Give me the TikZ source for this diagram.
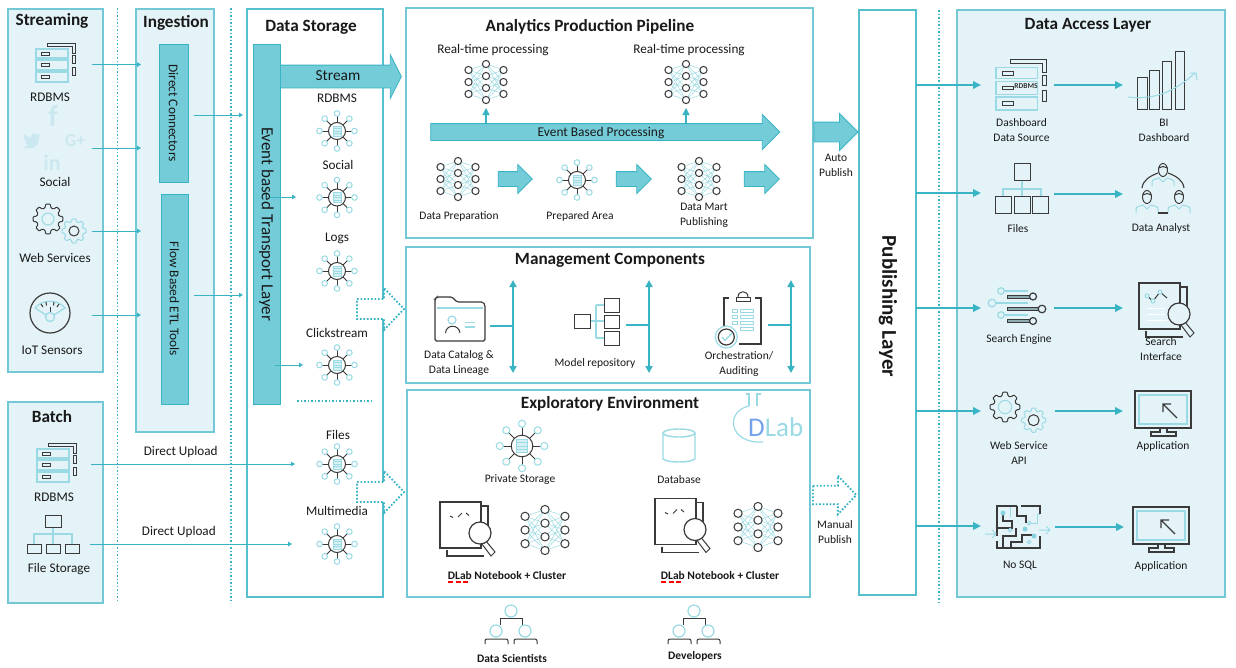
\documentclass[tikz,border=0pt]{standalone}
\usepackage{fontspec}
\setmainfont{Carlito}
\usetikzlibrary{arrows.meta}
\usetikzlibrary{calc}
\usetikzlibrary{positioning}
\usetikzlibrary{shapes.arrows}

\definecolor{ink}{HTML}{3A3A3A}
\definecolor{tealline}{HTML}{38B4C5}
\definecolor{lightteal}{HTML}{9ADAE4}
\definecolor{barfill}{HTML}{74CCD8}
\definecolor{panelline}{HTML}{73C8D5}
\definecolor{panelfill}{HTML}{E4F3F8}
\definecolor{ghost}{HTML}{CBE7EF}

\tikzset{
    x=1pt, y=-1pt,
    panel/.style={draw=panelline, line width=1.5pt, fill=panelfill},
    framed/.style={draw=tealline!85, line width=1.6pt, fill=white},
    lbl/.style={font=\fontsize{13.2}{15}\selectfont, text=black!90, align=center, inner sep=0pt},
    lblsm/.style={font=\fontsize{11.5}{15}\selectfont, text=black!90, align=center, inner sep=0pt},
    ttl/.style={font=\fontsize{17.2}{20}\bfseries\selectfont, text=black!90, inner sep=0pt},
    boldlbl/.style={font=\fontsize{11.5}{15}\bfseries\selectfont, text=black!90, inner sep=0pt},
    bar/.style={draw=tealline, line width=0.8pt, fill=barfill, rotate=-90, inner sep=0pt,
        font=\fontsize{13.4}{15}\selectfont, text=black!90},
    blockarrow/.style={single arrow, draw=tealline, line width=0.8pt, fill=barfill, inner xsep=0pt, inner ysep=0pt,
        font=\fontsize{13.4}{16}\selectfont, text=black!90},
    dotline/.style={draw=tealline, line width=1.8pt, dash pattern=on 1.7pt off 1.8pt},
    thinflow/.style={draw=tealline, line width=1pt, -{Triangle[length=4pt,width=4.5pt]}},
    flow/.style={draw=tealline, line width=1.8pt, -{Triangle[length=8pt,width=7.5pt]}},
    updown/.style={draw=tealline, line width=1.8pt, {Triangle[length=7pt,width=7pt]}-{Triangle[length=7pt,width=7pt]}},
    dk/.style={draw=ink, line width=1pt},
    lt/.style={draw=lightteal, line width=1pt},
}

\tikzset{
    hub/.pic={
        \foreach \a in {0,45,...,315} {
            \draw[dk,line width=0.8pt] (0,0) -- (\a:15);
            \draw[lt,fill=white] (\a:17.5) circle (2.8);
        }
        \draw[dk,fill=white] (0,0) circle (8.5);
        \draw[lt,fill=lightteal!40] (-4,-5) rectangle (4,5);
        \draw[lt] (-4,-2.5) -- (4,-2.5) (-4,0) -- (4,0) (-4,2.5) -- (4,2.5);
    },
    neural/.pic={
        \foreach \p in {-12,0,12} {
            \foreach \q in {-18,-6,6,18} {
                \draw[lt,line width=0.5pt] (-17.5,\p) -- (0,\q) -- (17.5,\p);
            }
        }
        \foreach \p in {-12,0,12} {
            \draw[dk,fill=white] (-17.5,\p) circle (3.6);
            \draw[dk,fill=white] (17.5,\p) circle (3.6);
        }
        \foreach \q in {-18,-6,6,18} {
            \draw[dk,fill=white] (0,\q) circle (3.6);
        }
    },
    rack/.pic={
        \draw[lt,line width=1.2pt] (-20,-13) rectangle (12,-4);
        \draw[lt,line width=1.2pt] (-20,-2) rectangle (12,8);
        \draw[lt,line width=1.2pt] (-20,10) rectangle (12,20);
        \draw[dk,line width=0.8pt] (-15,-10) rectangle (-7,-7);
        \draw[dk,line width=0.8pt] (-15,1.5) rectangle (-7,4.5);
        \draw[dk,line width=0.8pt] (-15,13.5) rectangle (-7,16.5);
        \draw[dk,line width=0.8pt] (-9,-19) -- (19,-19) -- (19,-9) -- (16,-9) -- (16,-16) -- (-9,-16) -- cycle;
        \draw[dk,line width=0.8pt] (16,-7) rectangle (19,1);
        \draw[dk,line width=0.8pt] (16,5) rectangle (19,13);
    },
    cog/.pic={
        \draw[line width=1pt,rounded corners=0.8pt,pic actions] (-15:11.5)
            \foreach \a in {0,45,...,315} { -- (\a-15:11.5) -- (\a-9:15) -- (\a+9:15) -- (\a+15:11.5) } -- cycle;
    },
    gears/.pic={
        \pic[draw=ink] at (0,0) {cog};
        \draw[lt] (0,0) circle (6);
        \pic[draw=lightteal,scale=0.82] at (26,12) {cog};
        \draw[dk] (26,12) circle (5);
    },
    gauge/.pic={
        \draw[dk,line width=1.2pt] (0,0) circle (20);
        \draw[lt,line width=1.2pt] (-15,-5) .. controls (-8,-14) and (8,-14) .. (15,-5) -- (4,2);
        \draw[lt,line width=1.2pt] (-15,-5) -- (-4,2);
        \draw[dk] (-9,-9) -- (-7,-6) (-4,-11) -- (-3.5,-7.5) (4,-11) -- (3.5,-7.5) (9,-9) -- (7,-6);
        \draw[dk] (0,-6) -- (0,0);
        \draw[lt,line width=1.2pt] (0,4) circle (4.5);
    },
    filetree/.pic={
        \draw[lt,line width=1.2pt] (0,12) -- (0,29) (-19,29) -- (-19,19) -- (19,19) -- (19,29);
        \draw[dk] (-8,0) rectangle (8,12);
        \draw[dk] (-26,29) rectangle (-12,38);
        \draw[dk] (-7,29) rectangle (7,38);
        \draw[dk] (12,29) rectangle (26,38);
    },
    filetreebig/.pic={
        \draw[lt,line width=1.2pt] (0,17) -- (0,33) (-19,33) -- (-19,26) -- (19,26) -- (19,33);
        \draw[dk] (-8,0) rectangle (8,17);
        \draw[dk] (-27,33) rectangle (-11,50);
        \draw[dk] (-8,33) rectangle (8,50);
        \draw[dk] (10,33) rectangle (26,50);
    },
    pics/searchdoc/.style={code={
        \draw[dk,line width=1.2pt] (41,4) -- (48,4) -- (48,26) (7,48) -- (7,54) -- (44,54);
        \draw[dk,line width=1.2pt] (0,0) rectangle (41,46);
        \draw[dk,fill=#1] (46,39) -- (55,50) -- (51,54) -- (42,42) -- cycle;
        \draw[dk,line width=1.2pt,fill=#1] (40,31) circle (11);
    }},
    codemarks/.pic={
        \draw[dk] (10,14) -- (13,15.5) (18,15) -- (22,11) (26,11) -- (29,13.5);
    },
    chainmarks/.pic={
        \draw[dk] (8,13) -- (14,18) -- (21,9) -- (28,15);
        \draw[lt,fill=panelfill] (8,13) circle (2);
        \draw[lt,fill=panelfill] (14,18) circle (2);
        \draw[lt,fill=panelfill] (21,9) circle (2);
        \draw[white,line width=1pt] (8,25) -- (26,25) (8,31) -- (26,31) (8,37) -- (28,37);
    },
    people/.pic={
        \draw[dk] (-11,14) -- (-11,7) -- (11,7) -- (11,14);
        \draw[lt,line width=1.2pt] (0,0) circle (6);
        \draw[lt,line width=1.2pt,fill=white] (-15,20) circle (6);
        \draw[lt,line width=1.2pt,fill=white] (14,20) circle (6);
        \draw[dk,rounded corners=2pt] (-26,33) -- (-26,28) -- (-3,28) -- (-3,33);
        \draw[dk,rounded corners=2pt] (3,33) -- (3,28) -- (26,28) -- (26,33);
    },
    analyst/.pic={
        \draw[lt,line width=1pt] (-11,16) -- (-11,12) .. controls (-11,9.5) and (-7,9) .. (-4,8) -- (0,12) -- (4,8) .. controls (7,9) and (11,9.5) .. (11,12) -- (11,16);
        \draw[dk,fill=panelfill] (0,0) ellipse (4.5 and 6.5);
        \draw[dk] (-4.5,-2) -- (0,-3.5) -- (4.5,-2);
    },
    monitor/.pic={
        \draw[dk,line width=1.3pt] (0,0) rectangle (56,37);
        \draw[lt,line width=1.3pt] (4,4) rectangle (52,33);
        \draw[dk,line width=1.2pt] (42,27) -- (28,13) (28,21) -- (28,13) -- (36,13);
        \draw[dk,line width=1.1pt] (25,37) -- (25,41) -- (16,41) -- (16,45) -- (41,45) -- (41,41) -- (32,41) -- (32,37);
    },
    dottedarrow/.pic={
        \draw[dotline,fill=white] (0,-10) -- (27,-10) -- (27,-21) -- (47,0) -- (27,21) -- (27,10) -- (0,10) -- cycle;
    },
}

\begin{document}
\begin{tikzpicture}

    \useasboundingbox (0,0) rectangle (1236,667);

    % panels
    \coordinate (streaming) at (8,9);
    \coordinate (batch) at (8,402);
    \coordinate (ingestion) at (136,9);
    \coordinate (storage) at (247,9);
    \coordinate (pipeline) at (406,8);
    \coordinate (management) at (406,247);
    \coordinate (exploratory) at (407,390);
    \coordinate (publishing) at (859,10);
    \coordinate (access) at (957,10);

    \draw[panel] (streaming) rectangle +(95,363);
    \draw[panel] (batch) rectangle +(95,201);
    \draw[panel] (ingestion) rectangle +(78,423);
    \draw[framed] (storage) rectangle +(136,588);
    \draw[framed,draw=panelline] (pipeline) rectangle +(407,230);
    \draw[framed,draw=panelline] (management) rectangle +(404,136);
    \draw[framed,draw=panelline] (exploratory) rectangle +(403,207);
    \draw[framed] (publishing) rectangle +(57,585);
    \draw[panel] (access) rectangle +(268,587);

    \coordinate (sepA) at (117.5,8);
    \coordinate (sepAend) at (117.5,603);
    \coordinate (sepB) at (231,8);
    \coordinate (sepBend) at (231,603);
    \coordinate (sepC) at (939,10);
    \coordinate (sepCend) at (939,605);
    \coordinate (storageSep) at (297,401);
    \coordinate (storageSepEnd) at (372,401);
    \draw[dotline] (sepA) -- (sepAend);
    \draw[dotline] (sepB) -- (sepBend);
    \draw[dotline] (sepC) -- (sepCend);
    \draw[dotline] (storageSep) -- (storageSepEnd);

    % titles
    \node[ttl] (streamingTitle) at (52,20.5) {Streaming};
    \node[ttl] (batchTitle) at (52,417) {Batch};
    \node[ttl] (ingestionTitle) at (176,22.5) {Ingestion};
    \node[ttl] (storageTitle) at (311,27) {Data Storage};
    \node[ttl] (pipelineTitle) at (590,27) {Analytics Production Pipeline};
    \node[ttl] (managementTitle) at (610,260.5) {Management Components};
    \node[ttl] (exploratoryTitle) at (610,403.5) {Exploratory Environment};
    \node[ttl] (accessTitle) at (1088,25.5) {Data Access Layer};

    % bars
    \node[bar,minimum width=138,minimum height=29] (directBar) at (173.5,113) {Direct Connectors};
    \node[bar,minimum width=210,minimum height=27] (flowBar) at (174.5,299) {Flow Based ETL Tools};
    \node[bar,minimum width=360,minimum height=27,font=\fontsize{17}{18}\selectfont] (eventBar) at (266.5,224) {Event based Transport Layer};
    \node[rotate=-90,inner sep=0pt,font=\fontsize{21}{22}\bfseries\selectfont,text=black!90] (publishingLabel) at (888,306.5) {Publishing Layer};

    % block arrows
    \node[blockarrow,minimum height=121,text height=15,text depth=7,single arrow head extend=10.5,single arrow tip angle=126,font=\fontsize{15.4}{16}\selectfont] (streamArrow) at (338,76.5) {Stream};
    \node[blockarrow,minimum height=349,text height=12,text depth=4,single arrow head extend=9] (eventArrow) at (601,132) {Event Based Processing};
    \node[blockarrow,minimum height=44,text height=9.5,text depth=9.5,single arrow head extend=8.5] (autoArrow) at (831,132) {};
    \node[blockarrow,minimum height=34,text height=7,text depth=7,single arrow head extend=7] (prepArrow) at (511.5,179) {};
    \node[blockarrow,minimum height=35,text height=7,text depth=7,single arrow head extend=7] (areaArrow) at (630,179) {};
    \node[blockarrow,minimum height=35,text height=7,text depth=7,single arrow head extend=7] (martArrow) at (758,179) {};

    % streaming sources
    \coordinate (srcRdbms) at (56,62);
    \coordinate (srcGears) at (48,219);
    \coordinate (srcGauge) at (50,313);
    \pic at (srcRdbms) {rack};
    \pic at (srcGears) {gears};
    \pic at (srcGauge) {gauge};
    \node[lbl] (srcRdbmsLabel) at (50,97) {RDBMS};
    \node[lbl] (srcSocialLabel) at (55,181.5) {Social};
    \node[lbl] (srcWebLabel) at (55,258) {Web Services};
    \node[lbl] (srcIotLabel) at (52,350) {IoT Sensors};
    \node[inner sep=0pt,text=ghost,font=\fontsize{30}{30}\bfseries\selectfont] (socialF) at (53,116) {f};
    \node[inner sep=0pt,text=ghost,font=\fontsize{18}{18}\bfseries\selectfont] (socialG) at (75,141) {G+};
    \node[inner sep=0pt,text=ghost,font=\fontsize{22}{22}\bfseries\selectfont] (socialIn) at (52,163) {in};
    \fill[ghost,shift={(32,141)}] (-9,6) .. controls (-3,9) and (7,8) .. (7,-4) -- (9,-6) -- (6.5,-5.5) -- (8,-7.5) -- (5,-6.5) .. controls (2,-9) and (-1,-7) .. (-1,-3.5) .. controls (-4,-3.5) and (-7,-5.5) .. (-8,-7) .. controls (-9,-5) and (-8,-3) .. (-6,-2) -- (-8,-2.5) .. controls (-8,-0.5) and (-6.5,0.5) .. (-5,1) -- (-7,1) .. controls (-6.5,2.5) and (-5,3.5) .. (-3.5,3.5) .. controls (-5,5) and (-7,6) .. (-9,6) -- cycle;

    % batch sources
    \coordinate (batchRdbms) at (57,462);
    \coordinate (batchFiles) at (53,515);
    \pic at (batchRdbms) {rack};
    \pic at (batchFiles) {filetree};
    \node[lbl] (batchRdbmsLabel) at (54,497) {RDBMS};
    \node[lbl] (batchFilesLabel) at (59,569) {File Storage};

    % storage
    \coordinate (hubRdbms) at (337,131);
    \coordinate (hubSocial) at (337,197.5);
    \coordinate (hubLogs) at (337,271);
    \coordinate (hubClick) at (337,365);
    \coordinate (hubFiles) at (337,464);
    \coordinate (hubMedia) at (337,544);
    \pic at (hubRdbms) {hub};
    \pic at (hubSocial) {hub};
    \pic at (hubLogs) {hub};
    \pic at (hubClick) {hub};
    \pic at (hubFiles) {hub};
    \pic at (hubMedia) {hub};
    \node[lbl] (hubRdbmsLabel) at (337,98) {RDBMS};
    \node[lbl] (hubSocialLabel) at (338,165) {Social};
    \node[lbl] (hubLogsLabel) at (337,238) {Logs};
    \node[lbl] (hubClickLabel) at (337,333) {Clickstream};
    \node[lbl] (hubFilesLabel) at (338,435) {Files};
    \node[lbl] (hubMediaLabel) at (337,511) {Multimedia};

    % arrows on the left
    \coordinate (inA) at (92,64.5);
    \coordinate (inAend) at (141,64.5);
    \coordinate (inB) at (92,148);
    \coordinate (inBend) at (141,148);
    \coordinate (inC) at (92,231);
    \coordinate (inCend) at (141,231);
    \coordinate (inD) at (92,315);
    \coordinate (inDend) at (141,315);
    \coordinate (directOut) at (194,115);
    \coordinate (directOutEnd) at (243,115);
    \coordinate (flowOut) at (194,295);
    \coordinate (flowOutEnd) at (243,295);
    \coordinate (eventSocial) at (270,197);
    \coordinate (eventSocialEnd) at (296,197);
    \coordinate (eventClick) at (275,365);
    \coordinate (eventClickEnd) at (303,365);
    \coordinate (upRdbms) at (91,464);
    \coordinate (upRdbmsEnd) at (295,464);
    \coordinate (upFiles) at (90,544);
    \coordinate (upFilesEnd) at (292,544);
    \draw[thinflow] (inA) -- (inAend);
    \draw[thinflow] (inB) -- (inBend);
    \draw[thinflow] (inC) -- (inCend);
    \draw[thinflow] (inD) -- (inDend);
    \draw[thinflow] (directOut) -- (directOutEnd);
    \draw[thinflow] (flowOut) -- (flowOutEnd);
    \draw[thinflow] (eventSocial) -- (eventSocialEnd);
    \draw[thinflow] (eventClick) -- (eventClickEnd);
    \draw[thinflow] (upRdbms) -- (upRdbmsEnd) node[lbl,pos=0.44,above=6pt] (upRdbmsLabel) {Direct Upload};
    \draw[thinflow] (upFiles) -- (upFilesEnd) node[lbl,pos=0.44,above=5.5pt] (upFilesLabel) {Direct Upload};

    \coordinate (dotMgmt) at (357,309);
    \coordinate (dotExpl) at (357,492);
    \coordinate (dotManual) at (813,495);
    \pic at (dotMgmt) {dottedarrow};
    \pic at (dotExpl) {dottedarrow};
    \pic[scale=0.92] at (dotManual) {dottedarrow};

    % pipeline
    \coordinate (rtLeft) at (486,82);
    \coordinate (rtRight) at (686,82);
    \coordinate (prep) at (458,179);
    \coordinate (area) at (577,180);
    \coordinate (mart) at (699,179);
    \pic at (rtLeft) {neural};
    \pic at (rtRight) {neural};
    \pic at (prep) {neural};
    \pic at (area) {hub};
    \pic at (mart) {neural};
    \node[lbl] (rtLeftLabel) at (493,50) {Real-time processing};
    \node[lbl] (rtRightLabel) at (689,50) {Real-time processing};
    \node[lblsm] (prepLabel) at (459,216) {Data Preparation};
    \node[lblsm] (areaLabel) at (580,216) {Prepared Area};
    \node[lblsm] (martLabel) at (704,215.5) {Data Mart\\Publishing};
    \node[lblsm] (autoLabel) at (836,165.5) {Auto\\Publish};

    \coordinate (rtLeftIn) at (486,108);
    \coordinate (rtLeftOut) at (486,124);
    \coordinate (rtRightIn) at (686,108);
    \coordinate (rtRightOut) at (686,124);
    \draw[draw=tealline,line width=1.2pt,-{Triangle[length=7pt,width=7pt]}] (rtLeftOut) -- (rtLeftIn);
    \draw[draw=tealline,line width=1.2pt,-{Triangle[length=7pt,width=7pt]}] (rtRightOut) -- (rtRightIn);

    % management
    \coordinate (folder) at (435,297);
    \coordinate (tree) at (574,298);
    \coordinate (clipboard) at (724,292);
    \draw[dk,line width=1.2pt,rounded corners=1.5pt,shift={(folder)}] (0,2) -- (2,0) -- (17,0) -- (22,5) -- (48,5) -- (50,8) -- (50,44) -- (0,44) -- cycle;
    \draw[lt,line width=1.2pt,shift={(folder)}] (2,11) -- (48,11) (30,25.5) -- (40,25.5) (30,30) -- (40,30);
    \draw[lt,line width=1.2pt,shift={(folder)}] (17,23) circle (4);
    \draw[dk,shift={(folder)}] (10.5,36) .. controls (11,27) and (24,27) .. (25,36);

    \draw[lt,line width=1.2pt,shift={(tree)}] (16,23) -- (30,23) (22,7) -- (22,40) (22,7) -- (30,7) (22,40) -- (30,40);
    \draw[dk,shift={(tree)}] (0,16) rectangle (16,30);
    \draw[dk,shift={(tree)}] (30,0) rectangle (45,14);
    \draw[dk,shift={(tree)}] (30,17) rectangle (45,30);
    \draw[dk,shift={(tree)}] (30,33) rectangle (45,47);

    \draw[dk,line width=1.2pt,shift={(clipboard)}] (5,6) -- (0,6) -- (0,38) (31,6) -- (37,6) -- (37,52) -- (15,52);
    \draw[dk,line width=1pt,shift={(clipboard)}] (12,9) rectangle (26,5);
    \draw[dk,line width=1pt,shift={(clipboard)}] (14,5) .. controls (14,-2) and (24,-2) .. (24,5);
    \draw[lt,shift={(clipboard)}] (8,17) rectangle (13,20) (16,17) rectangle (29,20) (8,23) rectangle (13,26) (16,23) rectangle (29,26) (8,29) rectangle (13,32) (16,29) rectangle (29,32) (16,35) rectangle (29,38);
    \draw[lt,line width=1.2pt,fill=white,shift={(clipboard)}] (2.3,45) circle (11);
    \draw[dk,line width=1.2pt,shift={(clipboard)}] (2.3,45) circle (8);
    \draw[lt,line width=1.3pt,shift={(clipboard)}] (-2,45) -- (1,48.5) -- (8,41);

    \node[lblsm] (folderLabel) at (459,362.5) {Data Catalog \&\\Data Lineage};
    \node[lblsm] (treeLabel) at (595,363) {Model repository};
    \node[lblsm] (clipboardLabel) at (739,364) {Orchestration/\\Auditing};

    \coordinate (mgmtAup) at (513,280);
    \coordinate (mgmtAdown) at (513,373);
    \coordinate (mgmtAstem) at (490,326);
    \coordinate (mgmtBup) at (649,280);
    \coordinate (mgmtBdown) at (649,373);
    \coordinate (mgmtBstem) at (626,325);
    \coordinate (mgmtCup) at (791,280);
    \coordinate (mgmtCdown) at (791,373);
    \coordinate (mgmtCstem) at (768,325);
    \draw[updown] (mgmtAup) -- (mgmtAdown);
    \draw[updown] (mgmtBup) -- (mgmtBdown);
    \draw[updown] (mgmtCup) -- (mgmtCdown);
    \draw[draw=tealline,line width=1.8pt] (mgmtAstem) -- (mgmtAstem -| mgmtAup);
    \draw[draw=tealline,line width=1.8pt] (mgmtBstem) -- (mgmtBstem -| mgmtBup);
    \draw[draw=tealline,line width=1.8pt] (mgmtCstem) -- (mgmtCstem -| mgmtCup);

    % exploratory
    \coordinate (privateHub) at (522,446);
    \coordinate (database) at (679,433);
    \coordinate (docLeft) at (440,502);
    \coordinate (docRight) at (655,498.5);
    \coordinate (clusterLeft) at (545,530);
    \coordinate (clusterRight) at (758,527);
    \pic[scale=1.27] at (privateHub) {hub};
    \draw[lt,line width=1.4pt] (database) ellipse (16 and 4);
    \draw[lt,line width=1.4pt] (database) ++(-16,0) -- ++(0,26) .. controls +(5,4) and +(-5,4) .. ++(32,0) -- ++(0,-26);
    \pic at (docLeft) {searchdoc=white};
    \pic at (docLeft) {codemarks};
    \pic at (docRight) {searchdoc=white};
    \pic at (docRight) {codemarks};
    \pic[scale=1.14] at (clusterLeft) {neural};
    \pic[scale=1.14] at (clusterRight) {neural};
    \node[lblsm] (privateLabel) at (520,480) {Private Storage};
    \node[lblsm] (databaseLabel) at (679,480) {Database};
    \node[boldlbl] (clusterLeftLabel) at (507,575) {DLab Notebook + Cluster};
    \node[boldlbl] (clusterRightLabel) at (720,575) {DLab Notebook + Cluster};
    \coordinate (spellLeft) at (448,581.5);
    \coordinate (spellLeftEnd) at (468,581.5);
    \coordinate (spellRight) at (661,581.5);
    \coordinate (spellRightEnd) at (681,581.5);
    \draw[red,line width=2pt,dash pattern=on 5pt off 2.5pt] (spellLeft) -- (spellLeftEnd);
    \draw[red,line width=2pt,dash pattern=on 5pt off 2.5pt] (spellRight) -- (spellRightEnd);
    \node[lblsm] (manualLabel) at (835,532.5) {Manual\\Publish};

    \coordinate (logo) at (749,406);
    \draw[lightteal,line width=1.2pt] (logo) -- ++(0,-12) -- ++(-3,0);
    \draw[lightteal,line width=1.2pt] (logo) ++(8,0) -- ++(0,-12) -- ++(4,0);
    \draw[lightteal,line width=1.2pt] (logo) .. controls +(-24,5) and +(-35,2) .. +(14,36);
    \node[inner sep=0pt,anchor=west,font=\fontsize{27}{27}\selectfont,text=lightteal] (logoLabel) at (748,427) {\textcolor{blue!25!lightteal}{D}Lab};

    % developers
    \coordinate (scientists) at (511,611);
    \coordinate (developers) at (694,611);
    \pic at (scientists) {people};
    \pic at (developers) {people};
    \node[boldlbl] (scientistsLabel) at (512,658) {Data Scientists};
    \node[boldlbl] (developersLabel) at (695,656) {Developers};

    % data access layer
    \coordinate (accRack) at (1022,84);
    \coordinate (accFiles) at (1022,163);
    \coordinate (accSearch) at (1139,283);
    \coordinate (accGears) at (1005,407);
    \coordinate (accMaze) at (997,506);
    \coordinate (accMonA) at (1135,391);
    \coordinate (accMonB) at (1133,507);
    \pic[scale=1.3] at (accRack) {rack};
    \node[inner sep=0pt,font=\fontsize{7.5}{8}\bfseries\selectfont,text=black!80] (accRackText) at (1026,86) {RDBMS};
    \pic at (accFiles) {filetreebig};
    \pic at (accSearch) {searchdoc=panelfill};
    \pic at (accSearch) {chainmarks};
    \pic[scale=1.1] at (accGears) {gears};
    \pic at (accMonA) {monitor};
    \pic at (accMonB) {monitor};

    % bi dashboard
    \coordinate (bi) at (1137,109);
    \draw[dk] (bi) rectangle +(10,-32);
    \draw[dk] (bi) ++(12,0) rectangle +(10,-39);
    \draw[dk] (bi) ++(25,0) rectangle +(9,-48);
    \draw[dk] (bi) ++(38,0) rectangle +(9,-58);
    \draw[lt,line width=1pt] (bi) ++(-9,-12) .. controls +(25,3) and +(-22,20) .. +(67,-24);
    \draw[lt,line width=1pt] (bi) ++(53,-36) -- ++(6,0) -- ++(1,7);

    % analysts
    \coordinate (team) at (1163,170);
    \coordinate (teamLeft) at (1147,197);
    \coordinate (teamRight) at (1179,197);
    \pic at (team) {analyst};
    \pic at (teamLeft) {analyst};
    \pic at (teamRight) {analyst};
    \draw[dk,line width=1.1pt] (team) ++(-21,18) .. controls +(1,-8) and +(-8,3) .. +(16,-15);
    \draw[dk,line width=1.1pt] (team) ++(21,18) .. controls +(-1,-8) and +(8,3) .. +(-16,-15);
    \draw[dk,line width=1.1pt] (team) ++(-5,43) -- +(10,0);

    % search engine
    \coordinate (engine) at (1019,309);
    \draw[lt,line width=1.2pt,shift={(engine)}] (-15.5,-18) -- (9,-18) (-23,-6) -- (9,-6) (-15.5,6) -- (9,6);
    \draw[lt,line width=1.2pt,fill=panelfill,shift={(engine)}] (-18,-18) circle (3.3) (-27,-6) circle (3.8) (-18,6) circle (3.3);
    \draw[dk,fill=lightteal!50!gray,line width=0.8pt,shift={(engine)}] (-12,-14) rectangle (11,-11) (-12,-1.5) rectangle (19,1.5) (-12,10.5) rectangle (11,13.5);
    \draw[dk,line width=1.2pt,fill=panelfill,shift={(engine)}] (14,-12.5) circle (3.5) (23,0) circle (3.8) (14,12) circle (3.5);

    % no sql
    \draw[dk,line width=1.2pt,shift={(accMaze)}] (0,30) -- (0,0) -- (20,0) (24,0) -- (43,0) -- (43,8) (43,30) -- (43,42) -- (0,42) -- (0,35);
    \draw[dk,line width=1.2pt,shift={(accMaze)}] (6,7) -- (6,15) -- (15,15) -- (15,22) -- (0,22) (20,0) -- (20,10) -- (29,10) -- (29,17) (6,42) -- (6,30) -- (19,30) -- (19,22) (14,42) -- (14,36) -- (25,36) -- (25,29) -- (37,29);
    \draw[lt,line width=1pt,shift={(accMaze)}] (13,1) -- (13,11) (32,17) -- (40,17) -- (40,8) -- (43,8);
    \fill[lightteal!80!tealline,shift={(accMaze)}] (6,7) circle (2.5) (28,23) circle (2.5) (37,30) circle (2.5);
    \draw[lt,fill=panelfill,shift={(accMaze)}] (13,24) circle (1.8) (32,17) circle (1.8) (32,36) circle (1.8);
    \draw[lt,line width=1pt,shift={(accMaze)}] (-12,28) -- (-1,28) (-5,24) -- (-1,28) -- (-5,32) (42,24) -- (53,24) (49,20) -- (53,24) -- (49,28);

    \node[lblsm] (accRackLabel) at (1021.5,130) {Dashboard\\Data Source};
    \node[lblsm] (biLabel) at (1164,130) {BI\\Dashboard};
    \node[lblsm] (accFilesLabel) at (1018,229) {Files};
    \node[lblsm] (teamLabel) at (1161,228) {Data Analyst};
    \node[lblsm] (engineLabel) at (1019,339) {Search Engine};
    \node[lblsm] (accSearchLabel) at (1161,349) {Search\\Interface};
    \node[lblsm] (accGearsLabel) at (1019,453) {Web Service\\API};
    \node[lblsm] (accMonALabel) at (1163,446) {Application};
    \node[lblsm] (accMazeLabel) at (1020,566) {No SQL};
    \node[lblsm] (accMonBLabel) at (1161,566) {Application};

    \coordinate (pubA) at (916,85);
    \coordinate (pubAend) at (981,85);
    \coordinate (pubB) at (916,193);
    \coordinate (pubBend) at (981,193);
    \coordinate (pubC) at (916,308);
    \coordinate (pubCend) at (981,308);
    \coordinate (pubD) at (916,411);
    \coordinate (pubDend) at (981,411);
    \coordinate (pubE) at (916,526);
    \coordinate (pubEend) at (981,526);
    \coordinate (accA) at (1054,85);
    \coordinate (accAend) at (1123,85);
    \coordinate (accB) at (1054,194);
    \coordinate (accBend) at (1123,194);
    \coordinate (accC) at (1054,308);
    \coordinate (accCend) at (1123,308);
    \coordinate (accD) at (1055,411);
    \coordinate (accDend) at (1123,411);
    \coordinate (accE) at (1055,527);
    \coordinate (accEend) at (1124,527);
    \draw[flow] (pubA) -- (pubAend);
    \draw[flow] (pubB) -- (pubBend);
    \draw[flow] (pubC) -- (pubCend);
    \draw[flow] (pubD) -- (pubDend);
    \draw[flow] (pubE) -- (pubEend);
    \draw[flow] (accA) -- (accAend);
    \draw[flow] (accB) -- (accBend);
    \draw[flow] (accC) -- (accCend);
    \draw[flow] (accD) -- (accDend);
    \draw[flow] (accE) -- (accEend);

\end{tikzpicture}
\end{document}
